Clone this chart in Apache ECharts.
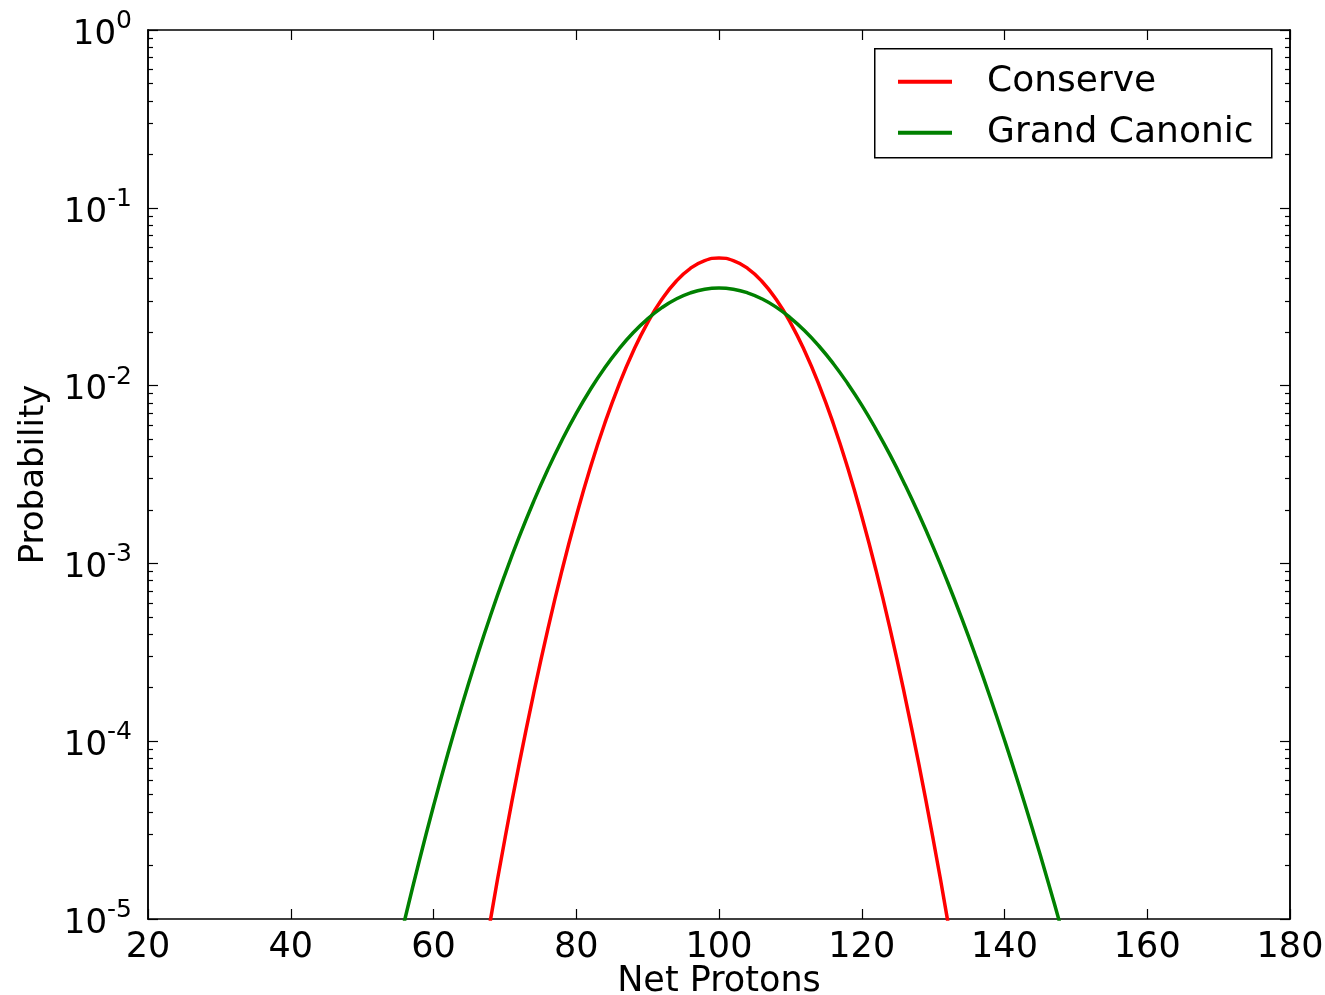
<!DOCTYPE html>
<html>
 <head>
  <title>Net Protons probability</title>
  <script src="https://cdn.jsdelivr.net/npm/echarts@6/dist/echarts.min.js"></script>
  <style>
    html, body, #container {
    width: 100%;
    height: 100%;
    margin: 0;
    padding: 0;
    background: #fff;
    }
  </style>
 </head>
  <body>
    <div id="container"></div>
    <script>
// values (every 2 net protons)
var conserveX = [66, 68, 70, 72, 74, 76, 78, 80, 82, 84, 86, 88, 90, 92, 94, 96, 98, 100,
  102, 104, 106, 108, 110, 112, 114, 116, 118, 120, 122, 124, 126, 128, 130, 132, 134];
var conserveY = [3.31e-6, 9.99e-6, 2.82e-5, 7.43e-5, 1.83e-4, 4.23e-4, 9.13e-4, 1.84e-3, 3.48e-3,
  6.14e-3, 1.014e-2, 1.566e-2, 2.263e-2, 3.057e-2, 3.864e-2, 4.567e-2, 5.048e-2, 5.22e-2,
  5.048e-2, 4.567e-2, 3.864e-2, 3.057e-2, 2.263e-2, 1.566e-2, 1.014e-2, 6.14e-3, 3.48e-3,
  1.84e-3, 9.13e-4, 4.23e-4, 1.83e-4, 7.43e-5, 2.82e-5, 9.99e-6, 3.31e-6];

var grandX = [54, 56, 58, 60, 62, 64, 66, 68, 70, 72, 74, 76, 78, 80, 82, 84, 86, 88, 90, 92, 94,
  96, 98, 100, 102, 104, 106, 108, 110, 112, 114, 116, 118, 120, 122, 124, 126, 128, 130, 132,
  134, 136, 138, 140, 142, 144, 146, 148, 150];
var grandY = [4.56e-6, 1.00e-5, 2.12e-5, 4.32e-5, 8.47e-5, 1.60e-4, 2.91e-4, 5.11e-4, 8.63e-4,
  1.408e-3, 2.215e-3, 3.363e-3, 4.93e-3, 6.98e-3, 9.54e-3, 1.261e-2, 1.61e-2, 1.989e-2, 2.374e-2,
  2.745e-2, 3.069e-2, 3.323e-2, 3.485e-2, 3.54e-2, 3.485e-2, 3.326e-2, 3.078e-2, 2.764e-2,
  2.406e-2, 2.035e-2, 1.67e-2, 1.332e-2, 1.031e-2, 7.77e-3, 5.68e-3, 4.05e-3, 2.80e-3, 1.888e-3,
  1.238e-3, 7.91e-4, 4.92e-4, 2.98e-4, 1.762e-4, 1.015e-4, 5.71e-5, 3.13e-5, 1.673e-5, 8.74e-6,
  4.46e-6];

var xTicks = [20, 40, 60, 80, 100, 120, 140, 160, 180];
var yTicks = [1e-5, 1e-4, 1e-3, 1e-2, 1e-1, 1];

// minor log ticks 2..9 x 10^k
var yMinor = [];
for (var k = -5; k < 0; k++) {
  for (var m = 2; m <= 9; m++) {
    yMinor.push(+(m * Math.pow(10, k)).toPrecision(3));
  }
}

function pairs(xs, ys) {
  return xs.map(function (x, i) { return [x, ys[i]]; });
}

var font = 'DejaVu Sans';
var frame = { show: true, onZero: false, lineStyle: { color: '#000', width: 1.5 } };
// legend sample: 54px line followed by an empty stretch (gap before the name)
var legendIcon = 'path://M0,0L54,0L54,4L0,4Z M84,0L84,0.001L84,0Z';

function yAxisOf(pos, ticks, len, labels) {
  return {
    type: 'log', logBase: 10, min: 1e-5, max: 1, position: pos,
    axisLine: frame,
    splitLine: { show: false },
    axisTick: { inside: true, length: len, customValues: ticks, lineStyle: { color: '#000', width: 1.2 } },
    axisLabel: labels ? {
      show: true, customValues: yTicks, margin: 16,
      formatter: function (v) {
        var e = Math.round(Math.log10(v));
        return '{b|10}{s|' + e + '}';
      },
      rich: {
        b: { fontSize: 34, fontFamily: font, color: '#000', lineHeight: 34, padding: [10, 0, 0, 0] },
        s: { fontSize: 25, fontFamily: font, color: '#000', lineHeight: 25, padding: [0, 0, 17, 0] }
      }
    } : { show: false },
    name: labels ? 'Probability' : '',
    nameLocation: 'middle', nameGap: 80, nameMoveOverlap: false,
    nameTextStyle: { fontSize: 34, fontFamily: font, color: '#000' }
  };
}

function legendRow(name, top) {
  return {
    data: [name], left: 898, top: top, padding: 0,
    itemWidth: 84, itemHeight: 4, icon: legendIcon,
    selectedMode: false, z: 5,
    textStyle: { fontSize: 36, fontFamily: font, color: '#000', lineHeight: 36 }
  };
}

var chartDom = document.getElementById('container');
var myChart = echarts.init(chartDom);
var option;

option = {
  animation: false,
  backgroundColor: '#fff',
  grid: { left: 148, right: 35, top: 30, bottom: 76, outerBoundsMode: 'none' },
  graphic: [{
    type: 'rect', left: 874, top: 48, z: 4,
    shape: { width: 397, height: 109 },
    style: { fill: '#fff', stroke: '#000', lineWidth: 1.5 }
  }],
  legend: [legendRow('Conserve', 46), legendRow('Grand Canonic', 97)],
  xAxis: [{
    type: 'value', min: 20, max: 180, interval: 20, position: 'bottom',
    axisLine: frame, splitLine: { show: false },
    axisTick: { inside: true, length: 10, lineStyle: { color: '#000', width: 1.2 } },
    axisLabel: { fontSize: 35, fontFamily: font, color: '#000', margin: -6 },
    name: 'Net Protons', nameLocation: 'middle', nameGap: 28, nameMoveOverlap: false,
    nameTextStyle: { fontSize: 35, fontFamily: font, color: '#000' }
  }, {
    type: 'value', min: 20, max: 180, interval: 20, position: 'top',
    axisLine: frame, splitLine: { show: false },
    axisTick: { inside: true, length: 10, lineStyle: { color: '#000', width: 1.2 } },
    axisLabel: { show: false }
  }],
  yAxis: [
    yAxisOf('left', yTicks, 10, true),
    yAxisOf('left', yMinor, 5, false),
    yAxisOf('right', yTicks, 10, false),
    yAxisOf('right', yMinor, 5, false)
  ],
  series: [{
    name: 'Conserve', type: 'line', data: pairs(conserveX, conserveY),
    showSymbol: false, symbol: 'none', smooth: true, clip: true,
    color: '#ff0000', lineStyle: { color: '#ff0000', width: 3.5 }
  }, {
    name: 'Grand Canonic', type: 'line', data: pairs(grandX, grandY),
    showSymbol: false, symbol: 'none', smooth: true, clip: true,
    color: '#008000', lineStyle: { color: '#008000', width: 3.5 }
  }]
};

option && myChart.setOption(option);
    </script>
  </body>
</html>
